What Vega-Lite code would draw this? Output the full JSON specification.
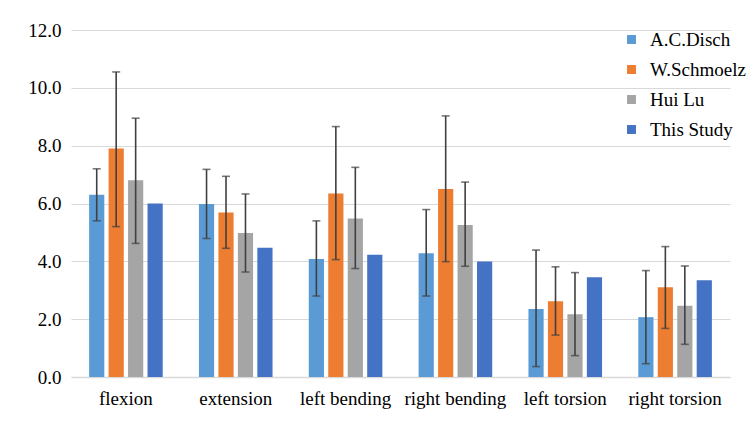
{
  "$schema": "https://vega.github.io/schema/vega-lite/v6.json",
  "width": 659,
  "height": 347,
  "autosize": {"type": "none"},
  "padding": {"left": 71, "top": 30, "right": 23, "bottom": 44},
  "background": "white",
  "config": {
    "view": {"stroke": null}
  },
  "data": {
    "values": [
      {"motion": "flexion", "study": "A.C.Disch", "value": 6.3, "lo": 5.4, "hi": 7.2},
      {"motion": "flexion", "study": "W.Schmoelz", "value": 7.9, "lo": 5.2, "hi": 10.55},
      {"motion": "flexion", "study": "Hui Lu", "value": 6.8, "lo": 4.62, "hi": 8.95},
      {"motion": "flexion", "study": "This Study", "value": 6.0, "lo": null, "hi": null},
      {"motion": "extension", "study": "A.C.Disch", "value": 5.98, "lo": 4.79, "hi": 7.18},
      {"motion": "extension", "study": "W.Schmoelz", "value": 5.69, "lo": 4.45, "hi": 6.94},
      {"motion": "extension", "study": "Hui Lu", "value": 4.98, "lo": 3.63, "hi": 6.33},
      {"motion": "extension", "study": "This Study", "value": 4.47, "lo": null, "hi": null},
      {"motion": "left bending", "study": "A.C.Disch", "value": 4.08, "lo": 2.8, "hi": 5.4},
      {"motion": "left bending", "study": "W.Schmoelz", "value": 6.35, "lo": 4.06, "hi": 8.66},
      {"motion": "left bending", "study": "Hui Lu", "value": 5.48, "lo": 3.75, "hi": 7.25},
      {"motion": "left bending", "study": "This Study", "value": 4.23, "lo": null, "hi": null},
      {"motion": "right bending", "study": "A.C.Disch", "value": 4.28, "lo": 2.8, "hi": 5.79},
      {"motion": "right bending", "study": "W.Schmoelz", "value": 6.5, "lo": 3.99, "hi": 9.03},
      {"motion": "right bending", "study": "Hui Lu", "value": 5.26, "lo": 3.83, "hi": 6.74},
      {"motion": "right bending", "study": "This Study", "value": 3.99, "lo": null, "hi": null},
      {"motion": "left torsion", "study": "A.C.Disch", "value": 2.35, "lo": 0.36, "hi": 4.39},
      {"motion": "left torsion", "study": "W.Schmoelz", "value": 2.62, "lo": 1.45, "hi": 3.81},
      {"motion": "left torsion", "study": "Hui Lu", "value": 2.17, "lo": 0.74, "hi": 3.61},
      {"motion": "left torsion", "study": "This Study", "value": 3.45, "lo": null, "hi": null},
      {"motion": "right torsion", "study": "A.C.Disch", "value": 2.07, "lo": 0.46, "hi": 3.68},
      {"motion": "right torsion", "study": "W.Schmoelz", "value": 3.1, "lo": 1.68, "hi": 4.51},
      {"motion": "right torsion", "study": "Hui Lu", "value": 2.46, "lo": 1.13, "hi": 3.84},
      {"motion": "right torsion", "study": "This Study", "value": 3.35, "lo": null, "hi": null}
    ]
  },
  "encoding": {
    "x": {
      "field": "motion", "type": "nominal", "sort": null, "title": null,
      "scale": {"paddingInner": 0.33, "paddingOuter": 0.165},
      "axis": {"labelAngle": 0, "ticks": false, "domainColor": "#D9D9D9", "domainWidth": 1.5, "labelPadding": 12, "labelFont": "Liberation Serif", "labelFontSize": 19, "labelColor": "#000000"}
    },
    "xOffset": {
      "field": "study", "type": "nominal",
      "sort": ["A.C.Disch", "W.Schmoelz", "Hui Lu", "This Study"],
      "scale": {"paddingInner": 0.22, "paddingOuter": 0}
    }
  },
  "layer": [
    {
      "mark": {"type": "bar"},
      "encoding": {
        "y": {
          "field": "value", "type": "quantitative", "title": null,
          "scale": {"domain": [0, 12]},
          "axis": {"values": [0, 2, 4, 6, 8, 10, 12], "format": ".1f", "domain": false, "ticks": false, "gridColor": "#D9D9D9", "gridWidth": 1.2, "labelPadding": 10, "labelFont": "Liberation Serif", "labelFontSize": 19, "labelColor": "#000000"}
        },
        "color": {
          "field": "study", "type": "nominal",
          "sort": ["A.C.Disch", "W.Schmoelz", "Hui Lu", "This Study"],
          "scale": {"domain": ["A.C.Disch", "W.Schmoelz", "Hui Lu", "This Study"], "range": ["#5B9BD5", "#ED7D31", "#A5A5A5", "#4472C4"]},
          "legend": {"title": null, "orient": "none", "legendX": 551, "legendY": 0, "symbolType": "square", "symbolSize": 80, "symbolStrokeWidth": 0, "rowPadding": 10, "labelOffset": 9, "labelFont": "Liberation Serif", "labelFontSize": 19, "labelColor": "#000000"}
        }
      }
    },
    {
      "mark": {"type": "rule", "color": "#404040", "strokeWidth": 1.6},
      "encoding": {
        "y": {"field": "lo", "type": "quantitative"},
        "y2": {"field": "hi"}
      }
    },
    {
      "mark": {"type": "tick", "color": "#404040", "thickness": 1.6, "size": 8, "orient": "horizontal"},
      "encoding": {"y": {"field": "lo", "type": "quantitative"}}
    },
    {
      "mark": {"type": "tick", "color": "#404040", "thickness": 1.6, "size": 8, "orient": "horizontal"},
      "encoding": {"y": {"field": "hi", "type": "quantitative"}}
    }
  ]
}
